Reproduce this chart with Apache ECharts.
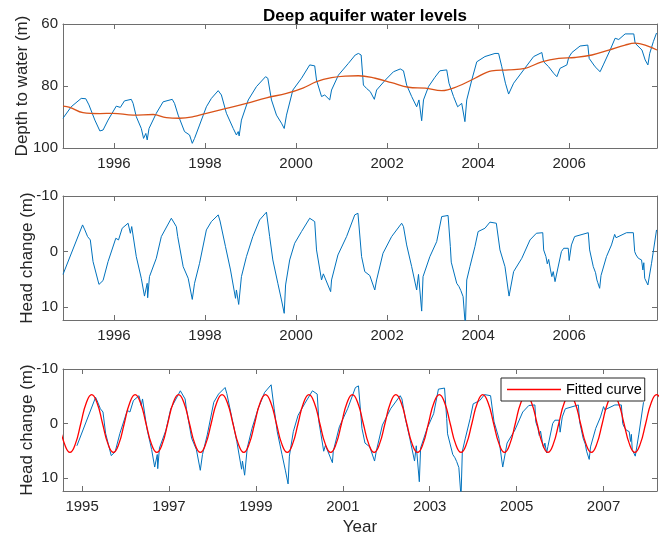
<!DOCTYPE html>
<html>
<head>
<meta charset="utf-8">
<script src="https://cdn.jsdelivr.net/npm/echarts@6/dist/echarts.min.js"></script>
<style>
  html, body { margin: 0; padding: 0; background: #fff; }
  #chart { width: 664px; height: 537px; }
</style>
</head>
<body>
<div id="chart"></div>
<script>
// depth to water (m)
const depthYears = [1994.88, 1995.06, 1995.28, 1995.38, 1995.45, 1995.48, 1995.58, 1995.69, 1995.76, 1995.87,
  1996.05, 1996.14, 1996.23, 1996.38, 1996.42, 1996.49, 1996.60, 1996.65, 1996.70, 1996.73, 1996.77, 1996.93,
  1997.08, 1997.28, 1997.33, 1997.41, 1997.55, 1997.66, 1997.72, 1997.77, 1997.88,
  1998.03, 1998.14, 1998.29, 1998.36, 1998.47, 1998.62, 1998.69, 1998.73, 1998.75, 1998.80, 1998.95,
  1999.13, 1999.33, 1999.38, 1999.46, 1999.57, 1999.68, 1999.74, 1999.79, 1999.93,
  2000.12, 2000.30, 2000.41, 2000.45, 2000.56, 2000.63, 2000.74, 2000.78, 2000.93,
  2001.15, 2001.30, 2001.37, 2001.43, 2001.48, 2001.55, 2001.63, 2001.72, 2001.77, 2001.96,
  2002.14, 2002.29, 2002.36, 2002.43, 2002.54, 2002.65, 2002.70, 2002.76, 2002.80, 2002.91,
  2003.05, 2003.16, 2003.31, 2003.36, 2003.46, 2003.55, 2003.64, 2003.71, 2003.75, 2003.86, 2003.97,
  2004.15, 2004.37, 2004.45, 2004.52, 2004.60, 2004.67, 2004.78,
  2005.00, 2005.22, 2005.40, 2005.44, 2005.55, 2005.66, 2005.73, 2005.80, 2005.95, 2005.99,
  2006.06, 2006.24, 2006.41, 2006.44, 2006.57, 2006.68, 2006.75, 2006.90,
  2007.01, 2007.09, 2007.23, 2007.42, 2007.45, 2007.60, 2007.67, 2007.73, 2007.77, 2007.85, 2007.92];
const depthValues = [90.4, 86.7, 84.0, 84.1, 86.1, 86.7, 91.0, 94.5, 94.2, 91.0,
  86.5, 86.9, 84.8, 84.3, 85.6, 89.9, 93.7, 96.9, 95.3, 97.4, 93.7, 88.8,
  85.1, 84.3, 85.6, 89.4, 94.7, 95.8, 98.5, 96.9, 92.6,
  86.7, 84.0, 81.5, 82.9, 88.8, 93.7, 95.8, 94.7, 96.1, 91.0, 84.5,
  80.2, 77.0, 77.5, 84.5, 89.4, 92.0, 93.7, 89.4, 81.3,
  77.5, 73.2, 73.5, 78.1, 83.4, 82.9, 84.5, 81.3, 76.5,
  72.7, 70.0, 69.5, 70.0, 79.7, 80.8, 81.8, 84.3, 81.3, 78.1,
  75.4, 74.5, 75.1, 79.7, 83.4, 86.7, 84.5, 91.2, 84.5, 80.2,
  77.2, 75.1, 74.8, 79.1, 83.4, 86.7, 85.6, 91.5, 84.5, 78.1, 72.2,
  70.5, 69.5, 69.5, 73.8, 79.1, 82.6, 79.1,
  74.8, 70.5, 69.2, 72.2, 73.8, 75.9, 77.0, 74.3, 73.2, 70.8,
  69.2, 67.1, 66.8, 71.1, 73.8, 75.4, 73.2, 68.4,
  64.6, 65.0, 63.2, 63.2, 66.2, 68.4, 71.6, 73.2, 69.5, 65.7, 62.9];

// long-term trend (orange)
const trendYears = [1994.88, 1995.03, 1995.32, 1995.69, 1995.98, 1996.42, 1996.86, 1997.15, 1997.44, 1997.74,
  1998.03, 1998.47, 1998.91, 1999.35, 1999.79, 2000.15, 2000.45, 2000.78, 2001.08, 2001.37, 2001.74,
  2002.10, 2002.47, 2002.84, 2003.20, 2003.57, 2003.93, 2004.30, 2004.67, 2005.03, 2005.40, 2005.77,
  2006.13, 2006.50, 2006.87, 2007.23, 2007.45, 2007.67, 2007.93];
const trendValues = [86.5, 86.9, 88.6, 88.9, 88.8, 89.4, 89.2, 90.2, 90.4, 89.9,
  88.8, 87.2, 85.6, 83.8, 82.4, 80.7, 78.6, 77.3, 76.8, 76.7, 77.5,
  78.9, 80.4, 80.7, 81.5, 80.0, 77.5, 75.1, 74.8, 74.3, 72.2, 71.1,
  70.8, 70.0, 68.4, 66.8, 66.2, 66.8, 68.4];

// head change (m), detrended
const headYears = [1994.88, 1995.31, 1995.36, 1995.42, 1995.48, 1995.54, 1995.67, 1995.76, 1995.87,
  1996.04, 1996.10, 1996.18, 1996.31, 1996.36, 1996.39, 1996.49, 1996.60, 1996.67, 1996.73, 1996.74, 1996.78, 1996.93,
  1997.04, 1997.26, 1997.28, 1997.37, 1997.40, 1997.52, 1997.63, 1997.72, 1997.77, 1997.88,
  1998.03, 1998.14, 1998.29, 1998.33, 1998.45, 1998.56, 1998.67, 1998.69, 1998.74, 1998.80, 1998.91,
  1999.05, 1999.20, 1999.35, 1999.37, 1999.42, 1999.49, 1999.60, 1999.68, 1999.74, 1999.77, 1999.86, 1999.97,
  2000.12, 2000.30, 2000.41, 2000.45, 2000.56, 2000.60, 2000.76, 2000.78, 2000.92,
  2001.11, 2001.29, 2001.36, 2001.44, 2001.51, 2001.62, 2001.73, 2001.77, 2001.91,
  2002.10, 2002.32, 2002.36, 2002.43, 2002.54, 2002.65, 2002.69, 2002.76, 2002.79, 2002.94,
  2003.09, 2003.20, 2003.34, 2003.39, 2003.41, 2003.53, 2003.58, 2003.62, 2003.67, 2003.72, 2003.75, 2003.82, 2003.93,
  2004.00, 2004.15, 2004.26, 2004.40, 2004.48, 2004.59, 2004.66, 2004.68, 2004.78, 2004.96,
  2005.14, 2005.28, 2005.42, 2005.44, 2005.49, 2005.52, 2005.55, 2005.59, 2005.62, 2005.65, 2005.69, 2005.72, 2005.83, 2005.88, 2005.98,
  2006.00, 2006.05, 2006.12, 2006.42, 2006.45, 2006.53, 2006.58, 2006.61, 2006.63, 2006.67, 2006.70, 2006.82, 2006.93,
  2007.00, 2007.03, 2007.26, 2007.41, 2007.44, 2007.47, 2007.52, 2007.59, 2007.62, 2007.64, 2007.66, 2007.73, 2007.81, 2007.92];
const headValues = [4.1, -4.8, -3.9, -2.7, -2.1, 1.8, 5.9, 5.2, 1.8,
  -2.4, -2.1, -4.2, -5.1, -3.3, -4.5, 0.9, 4.8, 8.0, 5.7, 8.3, 4.5, 1.2,
  -2.7, -6.0, -5.9, -4.5, -2.7, 2.7, 4.8, 8.6, 5.7, 2.1,
  -3.9, -5.4, -6.6, -5.5, -0.9, 3.3, 8.4, 6.9, 9.5, 4.5, 0.9,
  -2.7, -5.7, -7.1, -6.8, -2.7, 1.5, 5.7, 8.7, 11.1, 6.0, 1.5, -1.5,
  -3.6, -6.0, -5.4, -0.3, 5.1, 4.0, 7.2, 5.1, 0.6,
  -2.7, -6.6, -6.9, 0.9, 3.6, 4.3, 6.9, 5.1, 0.3,
  -2.7, -5.1, -4.5, -1.2, 2.7, 6.9, 4.1, 10.7, 4.5, 0.9,
  -1.8, -6.3, -6.5, -0.9, 1.9, 5.7, 6.3, 7.0, 8.1, 13.5, 5.1, 2.7, -0.9,
  -3.6, -4.2, -5.3, -5.1, -0.3, 2.7, 6.9, 8.0, 3.6, 1.2,
  -2.1, -3.3, -3.4, -0.3, 0.9, 2.2, 1.4, 3.3, 4.5, 3.6, 5.4, 4.2, 0.0, -0.6, -0.6,
  1.6, -1.2, -2.7, -3.4, -0.3, 2.7, 3.8, 5.1, 5.6, 6.6, 4.3, 0.9, -1.2,
  -3.1, -2.5, -3.4, -3.4, 0.0, 0.6, 1.2, 1.5, 3.3, 2.0, 4.8, 6.0, 2.1, -3.9];

// fitted annual curve, sampled every 1/8 year from 1994.47
const fitStart = 1994.47;
const fitStep = 0.125;
const fitValues = [
  0, 3.75, 5.3, 3.75, 0, -3.75, -5.3, -3.75,
  0, 3.75, 5.3, 3.75, 0, -3.75, -5.3, -3.75,
  0, 3.75, 5.3, 3.75, 0, -3.75, -5.3, -3.75,
  0, 3.75, 5.3, 3.75, 0, -3.75, -5.3, -3.75,
  0, 3.75, 5.3, 3.75, 0, -3.75, -5.3, -3.75,
  0, 3.75, 5.3, 3.75, 0, -3.75, -5.3, -3.75,
  0, 3.75, 5.3, 3.75, 0, -3.75, -5.3, -3.75,
  0, 3.75, 5.3, 3.75, 0, -3.75, -5.3, -3.75,
  0, 3.75, 5.3, 3.75, 0, -3.75, -5.3, -3.75,
  0, 3.75, 5.3, 3.75, 0, -3.75, -5.3, -3.75,
  0, 3.75, 5.3, 3.75, 0, -3.75, -5.3, -3.75,
  0, 3.75, 5.3, 3.75, 0, -3.75, -5.3, -3.75,
  0, 3.75, 5.3, 3.75, 0, -3.75, -5.3, -3.75,
  0, 3.75, 5.3, 3.75, 0, -3.75, -5.3, -3.75];

const evenYearTicks = [1996, 1998, 2000, 2002, 2004, 2006];
const oddYearTicks = [1995, 1997, 1999, 2001, 2003, 2005, 2007];
const depthTicks = [60, 80, 100];
const headTicks = [-10, 0, 10];

const FONT = '"Liberation Sans", Arial, sans-serif';
const TXT = '#262626';
const LINE = '#6e6e6e';

function pairs(xs, ys){ return xs.map((x, i) => [x, ys[i]]); }

function xAxes(gi, min, max, ticks, name){
  const base = {
    gridIndex: gi, type: 'value', min: min, max: max,
    axisLine: { show: true, onZero: false, lineStyle: { color: LINE, width: 1 } },
    axisTick: { show: true, inside: true, length: 5, customValues: ticks, lineStyle: { color: LINE } },
    splitLine: { show: false }
  };
  const bottom = Object.assign({}, base, {
    position: 'bottom',
    axisLabel: { customValues: ticks, margin: 8, fontSize: 15, color: TXT, fontFamily: FONT, formatter: v => String(v) }
  });
  if (name){
    bottom.name = name; bottom.nameLocation = 'middle'; bottom.nameGap = 28;
    bottom.nameTextStyle = { fontSize: 17, color: TXT, fontFamily: FONT };
  }
  const top = Object.assign({}, base, { position: 'top', axisLabel: { show: false } });
  return [bottom, top];
}

function yAxes(gi, min, max, ticks, name, gap){
  const base = {
    gridIndex: gi, type: 'value', min: min, max: max, inverse: true,
    axisLine: { show: true, onZero: false, lineStyle: { color: LINE, width: 1 } },
    axisTick: { show: true, inside: true, length: 5, customValues: ticks, lineStyle: { color: LINE } },
    splitLine: { show: false }
  };
  const left = Object.assign({}, base, {
    position: 'left',
    axisLabel: { customValues: ticks, margin: 5, fontSize: 15, color: TXT, fontFamily: FONT, formatter: v => String(v) },
    name: name, nameLocation: 'middle', nameGap: gap, nameMoveOverlap: false,
    nameTextStyle: { fontSize: 17, color: TXT, fontFamily: FONT }
  });
  const right = Object.assign({}, base, { position: 'right', axisLabel: { show: false } });
  return [left, right];
}

const fitData = fitValues.map((v, i) => [fitStart + i * fitStep, v]);

const chart = echarts.init(document.getElementById('chart'), null, { renderer: 'canvas' });
const option = {
  animation: false,
  backgroundColor: '#fff',
  title: {
    text: 'Deep aquifer water levels', left: 360, top: 3, textAlign: 'center',
    textStyle: { fontSize: 17, fontWeight: 'bold', color: '#000', fontFamily: FONT }
  },
  grid: [
    { left: 63, top: 24, width: 594, height: 124 },
    { left: 63, top: 196, width: 594, height: 124 },
    { left: 63, top: 369, width: 594, height: 123 }
  ],
  xAxis: [].concat(
    xAxes(0, 1994.88, 2007.93, evenYearTicks),
    xAxes(1, 1994.88, 2007.93, evenYearTicks),
    xAxes(2, 1994.56, 2008.23, oddYearTicks, 'Year')
  ),
  yAxis: [].concat(
    yAxes(0, 60, 100, depthTicks, 'Depth to water (m)', 32),
    yAxes(1, -10, 12.3, headTicks, 'Head change (m)', 27.5),
    yAxes(2, -10, 12.4, headTicks, 'Head change (m)', 27.5)
  ),
  legend: {
    data: [{ name: 'Fitted curve', icon: 'rect' }],
    left: 501, top: 378,
    itemWidth: 54, itemHeight: 1.5, itemGap: 4,
    padding: [4, 3, 4, 6],
    borderColor: '#262626', borderWidth: 1, backgroundColor: '#fff',
    textStyle: { fontSize: 14.5, color: '#000', fontFamily: FONT }
  },
  series: [
    { name: 'Depth', type: 'line', xAxisIndex: 0, yAxisIndex: 0, data: pairs(depthYears, depthValues),
      showSymbol: false, lineStyle: { color: '#0072BD', width: 1 }, itemStyle: { color: '#0072BD' } },
    { name: 'Trend', type: 'line', xAxisIndex: 0, yAxisIndex: 0, data: pairs(trendYears, trendValues), smooth: 0.4,
      showSymbol: false, lineStyle: { color: '#D95319', width: 1.3 }, itemStyle: { color: '#D95319' } },
    { name: 'Head', type: 'line', xAxisIndex: 2, yAxisIndex: 2, data: pairs(headYears, headValues),
      showSymbol: false, lineStyle: { color: '#0072BD', width: 1 }, itemStyle: { color: '#0072BD' } },
    { name: 'Head3', type: 'line', xAxisIndex: 4, yAxisIndex: 4, data: pairs(headYears, headValues),
      showSymbol: false, lineStyle: { color: '#0072BD', width: 1 }, itemStyle: { color: '#0072BD' } },
    { name: 'Fitted curve', type: 'line', xAxisIndex: 4, yAxisIndex: 4, data: fitData, smooth: 0.5,
      showSymbol: false, lineStyle: { color: '#FF0000', width: 1.3 }, itemStyle: { color: '#FF0000' } }
  ]
};
chart.setOption(option);
</script>
</body>
</html>
